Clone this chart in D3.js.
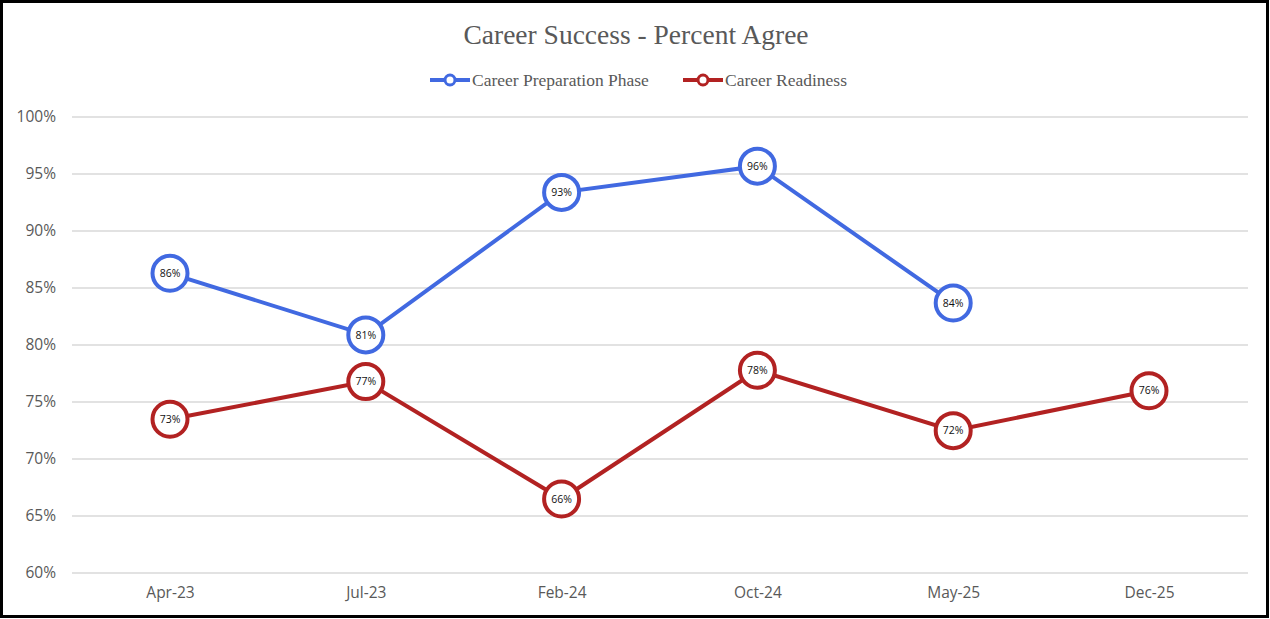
<!DOCTYPE html>
<meta charset="utf-8">
<head>
<title>Career Success - Percent Agree</title>
</head>
<style>
html, body { margin: 0; overflow: hidden; background: #fff; }
.grid line { stroke: #d9d9d9; stroke-width: 1.3px; }
.tick text { fill: #595959; font: 15.5px "Open Sans", "Liberation Sans", sans-serif; }
</style>
<body>
<script src="https://cdn.jsdelivr.net/npm/d3@7"></script>
<script>

var months = ["Apr-23", "Jul-23", "Feb-24", "Oct-24", "May-25", "Dec-25"];
var prepValues = [86.2, 80.8, 93.3, 95.6, 83.6, null];
var readyValues = [73.4, 76.7, 66.4, 77.7, 72.4, 75.9];
var yTicks = [60, 65, 70, 75, 80, 85, 90, 95, 100];

var series = [
    { name: "Career Preparation Phase", color: "#4169e1", values: prepValues },
    { name: "Career Readiness", color: "#b22222", values: readyValues }
];

var width = 1270, height = 619;

var svg = d3.select("body").append("svg")
    .attr("width", width)
    .attr("height", height);

// outer frame
svg.append("rect")
    .attr("x", 1.5).attr("y", 1.5)
    .attr("width", width - 4).attr("height", height - 4)
    .attr("fill", "#fff")
    .attr("stroke", "#000")
    .attr("stroke-width", 3);

var x = d3.scalePoint().domain(months).range([170, 1149]);
var y = d3.scaleLinear().domain([60, 100]).range([572, 116]);

// gridlines + y labels
var yAxis = svg.append("g")
    .attr("class", "grid")
    .attr("transform", "translate(72,0.5)")
    .call(d3.axisLeft(y).tickValues(yTicks).tickSize(-1176)
        .tickFormat(function (d) { return d + "%"; }));
yAxis.select(".domain").remove();
yAxis.selectAll(".tick text").attr("x", -16);

var xAxis = svg.append("g")
    .attr("transform", "translate(0,572)")
    .call(d3.axisBottom(x).tickSize(0).tickPadding(15));
xAxis.select(".domain").remove();

// title
svg.append("text")
    .attr("x", 636).attr("y", 44)
    .attr("text-anchor", "middle")
    .attr("fill", "#595959")
    .style("font", "27.5px 'Liberation Serif', serif")
    .text("Career Success - Percent Agree");

// legend
var legendX = [430, 683];
series.forEach(function (s, i) {
    var lg = svg.append("g").attr("transform", "translate(" + legendX[i] + ",80)");
    lg.append("line").attr("x1", 0).attr("x2", 40)
        .attr("stroke", s.color).attr("stroke-width", 4);
    lg.append("circle").attr("cx", 20).attr("r", 5)
        .attr("fill", "#fff").attr("stroke", s.color).attr("stroke-width", 3);
    lg.append("text").attr("x", 42).attr("y", 6)
        .attr("fill", "#595959")
        .style("font", "17.5px 'Liberation Serif', serif")
        .text(s.name);
});

var line = d3.line()
    .defined(function (d) { return d != null; })
    .x(function (d, i) { return x(months[i]); })
    .y(function (d) { return y(d); });

series.forEach(function (s) {
    svg.append("path")
        .datum(s.values)
        .attr("fill", "none")
        .attr("stroke", s.color)
        .attr("stroke-width", 4)
        .attr("d", line);

    var pts = s.values.map(function (v, i) { return { v: v, m: months[i] }; })
        .filter(function (d) { return d.v != null; });

    var g = svg.append("g").selectAll("g").data(pts).enter().append("g")
        .attr("transform", function (d) { return "translate(" + x(d.m) + "," + y(d.v) + ")"; });
    g.append("circle")
        .attr("r", 17.5)
        .attr("fill", "#fff")
        .attr("stroke", s.color)
        .attr("stroke-width", 4);
    g.append("text")
        .attr("text-anchor", "middle")
        .attr("dy", "0.35em")
        .attr("fill", "#111")
        .style("font", "10.5px 'Open Sans', sans-serif")
        .text(function (d) { return Math.round(d.v) + "%"; });
});

</script>
</body>
